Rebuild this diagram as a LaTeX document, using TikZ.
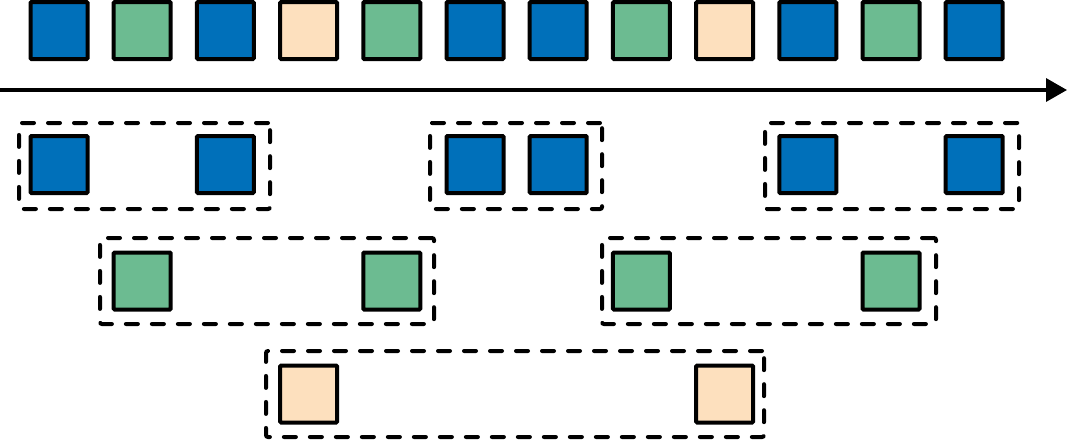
\documentclass[tikz,border=0pt]{standalone}
\usetikzlibrary{arrows.meta}
\definecolor{cblue}{RGB}{0,112,186}
\definecolor{cgreen}{RGB}{108,187,145}
\definecolor{corange}{RGB}{253,224,190}
\begin{document}
\begin{tikzpicture}[x=1pt,y=-1pt,
  sq/.style={draw=black, line width=4pt, minimum size=57pt, inner sep=0pt, rounded corners=1pt},
  bl/.style={sq, fill=cblue},
  gr/.style={sq, fill=cgreen},
  og/.style={sq, fill=corange},
  grp/.style={draw=black, line width=4pt, dash pattern=on 12pt off 14pt, line cap=round, inner sep=0pt, rounded corners=2pt, minimum height=86pt},
  timeline/.style={draw=black, line width=3.5pt, -{Triangle[length=21pt,width=23pt]}}]
\useasboundingbox (0,0) rectangle (1068,440);
% top sequence
\foreach \i/\c in {0/bl,1/gr,2/bl,3/og,4/gr,5/bl,6/bl,7/gr,8/og,9/bl,10/gr,11/bl}
  \node[\c] (t\i) at ({59+83.2*\i},30.5) {};
% timeline arrow
\coordinate (as) at (0,90);
\coordinate (ae) at (1067,90);
\draw[timeline] (as) -- (ae);
% row 1 (blue)
\foreach \i in {0,2,5,6,9,11}
  \node[bl] (b\i) at ({59+83.2*\i},164.5) {};
% row 2 (green)
\foreach \i in {1,4,7,10}
  \node[gr] (g\i) at ({59+83.2*\i},281) {};
% row 3 (orange)
\foreach \i in {3,8}
  \node[og] (o\i) at ({59+83.2*\i},394) {};
% dashed groups
\node[grp, minimum width=251pt] (grpA) at (144.5,166) {};
\node[grp, minimum width=172pt] (grpB) at (516,166) {};
\node[grp, minimum width=254pt] (grpC) at (892,166) {};
\node[grp, minimum width=334pt] (grpD) at (267,281) {};
\node[grp, minimum width=334pt] (grpE) at (769,281) {};
\node[grp, minimum width=498pt] (grpF) at (515,394) {};
\end{tikzpicture}
\end{document}
